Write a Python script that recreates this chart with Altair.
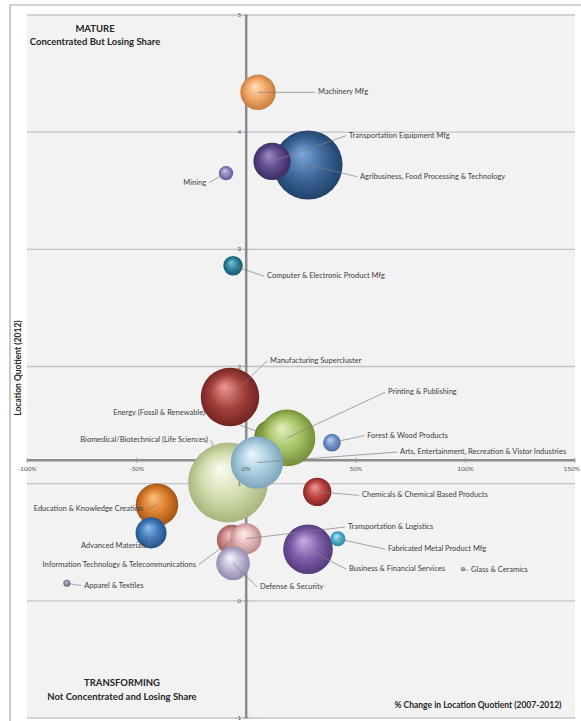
import altair as alt
import pandas as pd

# ---- data (drawing order: bottom to top) ----
industries = [
    "Agribusiness, Food Processing & Technology",
    "Transportation Equipment Mfg",
    "Machinery Mfg",
    "Mining",
    "Computer & Electronic Product Mfg",
    "Manufacturing Supercluster",
    "Energy (Fossil & Renewable)",
    "Biomedical/Biotechnical (Life Sciences)",
    "Printing & Publishing",
    "Arts, Entertainment, Recreation & Vistor Industries",
    "Forest & Wood Products",
    "Chemicals & Chemical Based Products",
    "Education & Knowledge Creation",
    "Advanced Materials",
    "Information Technology & Telecommunications",
    "Transportation & Logistics",
    "Defense & Security",
    "Business & Financial Services",
    "Fabricated Metal Product Mfg",
    "Glass & Ceramics",
    "Apparel & Textiles",
]
pct_change_lq = [28.2, 11.8, 5.4, -9.2, -6.0, -7.4, 11.8, -8.3, 18.6, 4.9, 39.1,
                 32.4, -40.7, -43.4, -6.5, -0.1, -6.0, 28.2, 41.8, 98.9, -81.8]
lq_2012 = [3.72, 3.75, 4.34, 3.65, 2.86, 1.74, 1.40, 1.01, 1.39, 1.18, 1.35,
           0.93, 0.82, 0.58, 0.52, 0.53, 0.32, 0.44, 0.53, 0.27, 0.15]
employment = [15210, 4410, 4000, 640, 1210, 10890, 4000, 20250, 10240, 8700, 1000,
              2560, 5760, 3060, 2890, 3060, 3610, 7840, 720, 60, 160]

# label anchors (data units) and side of the anchor the text sits on
label_x = [51.9, 46.9, 32.8, -18.3, 9.5, 10.9, -18.8, -17.4, 64.7, 70.2, 55.2,
           52.8, -47.1, -45.7, -22.9, 46.4, 6.3, 46.9, 64.7, 102.6, -73.9]
label_y = [3.62, 3.97, 4.34, 3.57, 2.77, 2.05, 1.60, 1.37, 1.78, 1.27, 1.41,
           0.90, 0.78, 0.47, 0.31, 0.63, 0.12, 0.27, 0.44, 0.26, 0.13]
label_align = ["left", "left", "left", "right", "left", "left", "right", "right",
               "left", "left", "left", "left", "right", "right", "right", "left",
               "left", "left", "left", "left", "left"]
leaders_beneath = ["Energy (Fossil & Renewable)",
                   "Biomedical/Biotechnical (Life Sciences)"]

highlight = ["#7fa9da", "#9f8cc4", "#fde0bd", "#cfc6ea", "#7cc8dc", "#ef9a98",
             "#c7dc98", "#fbfcf2", "#e3f0bf", "#eef8fc", "#c2d4f0", "#f09a98",
             "#f8c480", "#8cbcea", "#f0c0c0", "#fdeeee", "#f8f6fc", "#c8b0e4",
             "#b8e8f6", "#d8d8d8", "#c8d0e0"]
base = ["#3d679a", "#5e4a8c", "#f2a766", "#9384c0", "#2b8199", "#a3403c",
        "#8aa84a", "#d2ddae", "#a6c266", "#a9cde0", "#7495cb", "#bd4442",
        "#dc7d2c", "#4179b9", "#cb8585", "#e6b9b9", "#bfb6d4", "#7e5daa",
        "#4eb0d0", "#a0a0a0", "#8591a8"]
shade = ["#1f3f66", "#3b2b60", "#c27a3e", "#5f5090", "#17566a", "#6e2220",
         "#5c7428", "#a3b27a", "#6f8c34", "#7aa2b8", "#4a6aa0", "#7e2424",
         "#9c5216", "#234f80", "#9a5858", "#b88888", "#8e85a8", "#523878",
         "#24809e", "#707070", "#5a6478"]

x_ticks = [-100, -50, 0, 50, 100, 150]
x_tick_labels = ["-100%", "-50%", "0%", "50%", "100%", "150%"]
x_label_align = ["center", "center", "center", "center", "center", "right"]
y_ticks = [5, 4, 3, 2, 1, 0, -1]
y_tick_labels = ["5", "4", "3", "2", "1", "0", "-1"]
x_axis_crossing = 1.2

df = pd.DataFrame({
    "industry": industries,
    "pct": pct_change_lq,
    "lq": lq_2012,
    "emp": employment,
    "lx": label_x,
    "ly": label_y,
    "side": label_align,
})
df["lead_x"] = [lx - 1.3 if s == "left" else lx + 1.3 for lx, s in zip(label_x, label_align)]
df["beneath"] = df["industry"].isin(leaders_beneath)

xt = pd.DataFrame({"x": x_ticks, "t": x_tick_labels, "a": x_label_align, "c": x_axis_crossing})
yt = pd.DataFrame({"y": y_ticks, "t": y_tick_labels, "c": 0})
one = pd.DataFrame({"c": [x_axis_crossing], "z": [0]})

FONT = "Lato"
xs = alt.Scale(domain=[-100, 150], nice=False, zero=False)
ys = alt.Scale(domain=[-1, 5], nice=False, zero=False)
ss = alt.Scale(domain=[0, 20250], range=[0, 6362])

X = lambda f: alt.X(f, type="quantitative", scale=xs, axis=None)
Y = lambda f: alt.Y(f, type="quantitative", scale=ys, axis=None)

grid = alt.Chart(yt).mark_rule(color="#c4c4c4", strokeWidth=1.3).encode(y=Y("y"))
vaxis = alt.Chart(one).mark_rule(color="#8c8c8c", strokeWidth=2.5).encode(x=X("z"))
haxis = alt.Chart(one).mark_rule(color="#8c8c8c", strokeWidth=2.5).encode(y=Y("c"))
xtick_marks = alt.Chart(xt).mark_tick(orient="vertical", size=5, thickness=1, color="#8c8c8c").encode(x=X("x"), y=Y("c"))
ytick_marks = alt.Chart(yt).mark_tick(orient="horizontal", size=5, thickness=1, color="#8c8c8c").encode(x=X("c"), y=Y("y"))

leader_enc = dict(x=X("pct"), y=Y("lq"), x2=alt.X2("lead_x"), y2=alt.Y2("ly"))
leaders_under = alt.Chart(df).transform_filter("datum.beneath").mark_rule(
    color="#808080", strokeWidth=0.7).encode(**leader_enc)
leaders_over = alt.Chart(df).transform_filter("!datum.beneath").mark_rule(
    color="#808080", strokeWidth=0.7).encode(**leader_enc)

bubbles = []
for i, nm in enumerate(industries):
    grad = alt.RadialGradient(
        gradient="radial",
        stops=[alt.GradientStop(offset=0, color=highlight[i]),
               alt.GradientStop(offset=0.55, color=base[i]),
               alt.GradientStop(offset=1, color=shade[i])],
        x1=0.4, y1=0.32, r1=0.0, x2=0.5, y2=0.5, r2=0.52)
    bubbles.append(
        alt.Chart(df).transform_filter(alt.FieldEqualPredicate(field="industry", equal=nm))
        .mark_circle(fill=grad, opacity=1, fillOpacity=1, strokeWidth=0)
        .encode(x=X("pct"), y=Y("lq"), size=alt.Size("emp:Q", scale=ss, legend=None))
    )

lab_style = dict(baseline="middle", fontSize=7.5, font=FONT, color="#404040")
labels_left = alt.Chart(df).transform_filter("datum.side == 'left'").mark_text(
    align="left", **lab_style).encode(x=X("lx"), y=Y("ly"), text="industry:N")
labels_right = alt.Chart(df).transform_filter("datum.side == 'right'").mark_text(
    align="right", **lab_style).encode(x=X("lx"), y=Y("ly"), text="industry:N")

tick_style = dict(baseline="middle", dy=9, fontSize=6.5, font=FONT, color="#595959")
xlab_c = alt.Chart(xt).transform_filter("datum.a == 'center'").mark_text(
    align="center", **tick_style).encode(x=X("x"), y=Y("c"), text="t:N")
xlab_r = alt.Chart(xt).transform_filter("datum.a == 'right'").mark_text(
    align="right", dx=5, **tick_style).encode(x=X("x"), y=Y("c"), text="t:N")
ylab = alt.Chart(yt).mark_text(align="right", baseline="middle", dx=-5, fontSize=6.5,
                               font=FONT, color="#595959").encode(x=X("c"), y=Y("y"), text="t:N")

def ptext(txt, px, py, size, bold=True, align="center", angle=0):
    return alt.Chart(pd.DataFrame({"t": [txt]})).mark_text(
        align=align, baseline="middle", fontSize=size, font=FONT,
        fontWeight="bold" if bold else "normal", color="#262626", angle=angle
    ).encode(x=alt.value(px), y=alt.value(py), text="t:N")

titles = [
    ptext("MATURE", 68, 14, 9.5),
    ptext("Concentrated But Losing Share", 68, 27, 9.5),
    ptext("TRANSFORMING", 95, 668, 9.5),
    ptext("Not Concentrated and Losing Share", 95, 682, 9.5),
    ptext("% Change in Location Quotient (2007-2012)", 451, 690, 8.5),
    ptext("Location Quotient (2012)", -9, 353, 8.5, angle=270),
]

frame = alt.Chart(pd.DataFrame({"z": [0]})).mark_rect(
    fill=None, stroke="#a6a6a6", strokeWidth=1.2).encode(
    x=alt.value(-17), x2=alt.value(600), y=alt.value(-10), y2=alt.value(720))

chart = alt.layer(
    frame, grid, vaxis, haxis, xtick_marks, ytick_marks, leaders_under,
    *bubbles, leaders_over, labels_left, labels_right, xlab_c, xlab_r, ylab, *titles
).properties(
    width=548, height=703,
    autosize=alt.AutoSizeParams(type="none"),
    padding={"left": 27, "top": 15, "right": 6, "bottom": 3},
    background="white",
).configure_view(fill="#f2f2f2", stroke=None)

chart.save("out.html", embed_options={"renderer": "svg", "actions": False})
